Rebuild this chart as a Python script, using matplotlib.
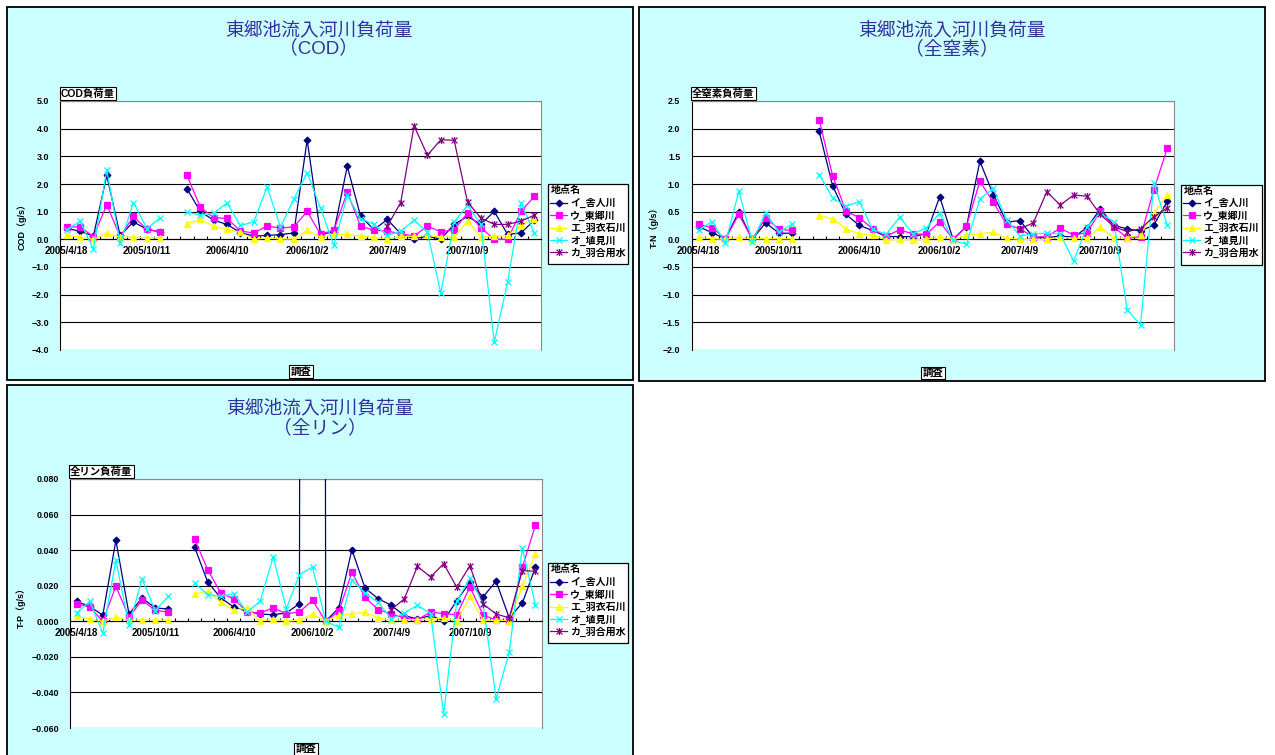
"""東郷池流入河川負荷量 - COD / 全窒素 / 全リン, three Excel-style monthly line charts."""
import numpy as np
import matplotlib

matplotlib.use("Agg")
import matplotlib.pyplot as plt
from matplotlib.patches import Rectangle
from matplotlib.lines import Line2D
from matplotlib.path import Path
from matplotlib.ticker import FixedLocator, FuncFormatter

plt.rcParams["font.family"] = ["Liberation Sans", "Noto Sans CJK JP", "DejaVu Sans"]

W, H = 1275, 755
nan = np.nan

# --- data -------------------------------------------------------------------
# 36 monthly surveys (2005/4 - 2008/3); Excel shows a label on every 6th one
n_survey = 36
x_labels = ["2005/4/18", "2005/10/11", "2006/4/10", "2006/10/2", "2007/4/9", "2007/10/9"]
label_idx = [0, 6, 12, 18, 24, 30]

sites = ["イ_舎人川", "ウ_東郷川", "エ_羽衣石川", "オ_埴見川", "カ_羽合用水"]

# COD load (g/s)
cod_toneri = [0.40, 0.29, 0.12, 2.31, 0.14, 0.63, 0.36, 0.27, nan, 1.83, 1.01, 0.69,
              0.54, 0.24, 0.12, 0.14, 0.17, 0.23, 3.60, 0.18, 0.27, 2.64, 0.83, 0.35,
              0.72, 0.20, 0.02, 0.11, 0.01, 0.54, 0.83, 0.54, 1.01, 0.18, 0.23, 0.69]
cod_togo = [0.45, 0.45, 0.10, 1.25, 0.10, 0.83, 0.36, 0.27, nan, 2.31, 1.17, 0.78,
            0.76, 0.30, 0.23, 0.48, 0.41, 0.45, 1.01, 0.18, 0.33, 1.71, 0.47, 0.33,
            0.30, 0.20, 0.12, 0.48, 0.27, 0.35, 0.95, 0.42, 0.00, 0.00, 1.01, 1.55]
cod_ueshi = [0.15, 0.08, 0.00, 0.22, 0.08, 0.08, 0.06, 0.06, nan, 0.57, 0.72, 0.47,
             0.36, 0.25, 0.00, 0.06, 0.01, 0.01, 0.33, 0.08, 0.18, 0.18, 0.11, 0.08,
             0.02, 0.11, 0.11, 0.14, 0.08, 0.08, 0.66, 0.08, 0.11, 0.14, 0.51, 0.75]
cod_hanami = [0.35, 0.65, -0.35, 2.50, -0.15, 1.33, 0.39, 0.78, nan, 0.99, 0.87, 0.95,
              1.31, 0.50, 0.63, 1.89, 0.45, 1.45, 2.41, 1.13, -0.22, 1.59, 0.75, 0.54,
              0.14, 0.30, 0.69, 0.27, -1.95, 0.63, 1.23, 0.54, -3.72, -1.55, 1.31, 0.23]
cod_hawai = [nan] * 24 + [0.48, 1.33, 4.10, 3.04, 3.60, 3.58, 1.35, 0.77, 0.54, 0.54, 0.66, 0.87]

# T-N load (g/s)
tn_toneri = [0.23, 0.12, 0.01, 0.50, 0.00, 0.30, 0.11, 0.11, nan, 1.95, 0.97, 0.45,
             0.25, 0.16, 0.05, 0.05, 0.05, 0.10, 0.77, 0.00, 0.23, 1.41, 0.81, 0.31,
             0.34, 0.03, 0.03, 0.06, 0.04, 0.21, 0.55, 0.25, 0.19, 0.15, 0.26, 0.69]
tn_togo = [0.27, 0.21, 0.01, 0.45, 0.00, 0.39, 0.18, 0.16, nan, 2.16, 1.15, 0.51,
           0.39, 0.19, 0.06, 0.17, 0.10, 0.09, 0.32, 0.00, 0.24, 1.05, 0.67, 0.27,
           0.19, 0.04, 0.05, 0.20, 0.08, 0.12, 0.51, 0.23, 0.02, 0.05, 0.90, 1.65]
tn_ueshi = [0.04, 0.01, 0.00, 0.04, 0.01, 0.01, 0.01, 0.01, nan, 0.43, 0.37, 0.19,
            0.10, 0.08, -0.01, 0.00, -0.01, 0.00, 0.05, 0.00, 0.07, 0.10, 0.13, 0.02,
            0.00, 0.00, 0.00, 0.04, 0.02, 0.02, 0.23, 0.02, 0.03, 0.08, 0.47, 0.80]
tn_hanami = [0.17, 0.32, -0.06, 0.87, -0.04, 0.48, 0.13, 0.28, nan, 1.17, 0.75, 0.60,
             0.68, 0.18, 0.09, 0.40, 0.10, 0.21, 0.47, -0.02, -0.09, 0.73, 0.92, 0.35,
             0.06, 0.10, 0.11, 0.10, -0.39, 0.23, 0.47, 0.32, -1.27, -1.55, 1.02, 0.25]
tn_hawai = [nan] * 24 + [0.19, 0.30, 0.86, 0.62, 0.80, 0.78, 0.45, 0.23, 0.14, 0.19, 0.41, 0.57]

# T-P load (g/s); 舎人川 2006/10 is far above the axis (drawn as near-vertical spikes)
tp_toneri = [0.0112, 0.0084, 0.0034, 0.0455, 0.0041, 0.0131, 0.0075, 0.0069, nan, 0.0418, 0.0221, 0.0131,
             0.0080, 0.0056, 0.0041, 0.0037, 0.0047, 0.0099, 5.0, 0.0000, 0.0075, 0.0403, 0.0187, 0.0127,
             0.0090, 0.0032, 0.0013, 0.0032, 0.0004, 0.0116, 0.0219, 0.0137, 0.0225, 0.0019, 0.0103, 0.0303]
tp_togo = [0.0099, 0.0080, 0.0000, 0.0197, 0.0024, 0.0118, 0.0062, 0.0051, nan, 0.0463, 0.0290, 0.0159,
           0.0126, 0.0052, 0.0047, 0.0075, 0.0043, 0.0052, 0.0118, 0.0000, 0.0056, 0.0275, 0.0135, 0.0066,
           0.0041, 0.0019, 0.0009, 0.0052, 0.0043, 0.0037, 0.0193, 0.0037, 0.0006, 0.0004, 0.0303, 0.0540]
tp_ueshi = [0.0028, 0.0013, 0.0000, 0.0022, 0.0006, 0.0009, 0.0009, 0.0006, nan, 0.0154, 0.0169, 0.0107,
            0.0062, 0.0075, 0.0000, 0.0013, 0.0000, 0.0006, 0.0041, 0.0000, 0.0034, 0.0041, 0.0051, 0.0019,
            0.0006, 0.0009, 0.0009, 0.0013, 0.0019, 0.0004, 0.0140, 0.0006, 0.0006, 0.0004, 0.0197, 0.0380]
tp_hanami = [0.0047, 0.0112, -0.0066, 0.0343, -0.0022, 0.0238, 0.0060, 0.0140, nan, 0.0215, 0.0150, 0.0140,
             0.0155, 0.0052, 0.0112, 0.0362, 0.0071, 0.0262, 0.0305, 0.0000, -0.0034, 0.0230, 0.0159, 0.0107,
             0.0013, 0.0047, 0.0090, 0.0043, -0.0523, 0.0112, 0.0243, 0.0099, -0.0436, -0.0174, 0.0412, 0.0090]
tp_hawai = [nan] * 24 + [0.0066, 0.0126, 0.0309, 0.0249, 0.0324, 0.0191, 0.0313, 0.0097, 0.0041, 0.0019, 0.0285, 0.0281]

# --- style ------------------------------------------------------------------
BG = "#CCFFFF"
TITLE_C = "#333399"
COLORS = ["#000080", "#FF00FF", "#FFFF00", "#00FFFF", "#800080"]
# Excel "star" marker: an x with a vertical bar
STAR = Path([(-1, -1), (1, 1), (-1, 1), (1, -1), (0, -1.2), (0, 1.2)],
            [Path.MOVETO, Path.LINETO, Path.MOVETO, Path.LINETO, Path.MOVETO, Path.LINETO])
MARKERS = ["D", "s", "^", "x", STAR]
MSIZES = [3.4, 4.6, 4.8, 4.8, 5.0]
TXT = dict(fontweight="bold")


def fx(x):
    return x / W


def fy(y):
    return 1 - y / H


fig = plt.figure(figsize=(W / 100, H / 100), dpi=100)


def chart(frame, plot, series, ylim, ystep, fmt, ypad, titles, title_xy, ylabel, ylab_xy,
          box_text, box_xy, legend_px, xtitle_xy):
    # chart-area background
    x0, y0, x1, y1 = frame
    fig.patches.append(Rectangle((fx(x0), fy(y1)), (x1 - x0) / W, (y1 - y0) / H,
                                 transform=fig.transFigure, fc=BG, ec="black", lw=1.3, zorder=-2))
    px0, py0, px1, py1 = plot
    ax = fig.add_axes([fx(px0), fy(py1), (px1 - px0) / W, (py1 - py0) / H])
    ax.set_facecolor("white")

    x = np.arange(n_survey)
    for vals, c, m, ms in zip(series, COLORS, MARKERS, MSIZES):
        ax.plot(x, np.array(vals, dtype=float), color=c, lw=0.9, marker=m, ms=ms,
                mfc=c, mec=c, mew=0.9, zorder=3)

    ax.set_xlim(-0.5, n_survey - 0.5)
    ax.set_ylim(*ylim)
    ax.yaxis.set_major_locator(FixedLocator(np.arange(ylim[0], ylim[1] + ystep / 2, ystep)))
    ax.yaxis.set_major_formatter(FuncFormatter(lambda v, p: (fmt % v).replace("-", "\u2212")
                                               if abs(v) > 1e-9 else fmt % 0))
    ax.yaxis.grid(True, color="black", lw=0.8)
    ax.set_axisbelow(True)
    ax.tick_params(axis="y", length=0, pad=ypad, labelsize=6.4)

    # category axis crosses at zero
    ax.spines["bottom"].set_position(("data", 0))
    ax.spines["bottom"].set_color("black")
    ax.spines["bottom"].set_linewidth(0.8)
    ax.spines["left"].set_color("black")
    ax.spines["left"].set_linewidth(0.8)
    for s in ("top", "right"):
        ax.spines[s].set_color("#888888")
        ax.spines[s].set_linewidth(0.8)
    ax.set_xticks(label_idx)
    ax.set_xticklabels(x_labels)
    ax.set_xticks(np.arange(-0.5, n_survey), minor=True)
    ax.tick_params(axis="x", which="major", length=0, pad=4.5, labelsize=7.0)
    ax.tick_params(axis="x", which="minor", direction="in", length=2.5, width=0.8)
    for lab in ax.get_xticklabels() + ax.get_yticklabels():
        lab.set_fontweight("bold")

    # titles and little Excel text boxes
    tx, ty1, ty2 = title_xy
    fig.text(fx(tx), fy(ty1), titles[0], ha="center", va="center", fontsize=13.5, color=TITLE_C)
    fig.text(fx(tx), fy(ty2), titles[1], ha="center", va="center", fontsize=13.5, color=TITLE_C)
    fig.text(fx(ylab_xy[0]), fy(ylab_xy[1]), ylabel, rotation=90, ha="center", va="center",
             fontsize=6.5, **TXT)
    box = dict(boxstyle="square,pad=0.12", fc="white", ec="black", lw=0.8)
    fig.text(fx(box_xy[0]), fy(box_xy[1]), box_text, ha="left", va="center", fontsize=7.5,
             bbox=box, **TXT)
    fig.text(fx(xtitle_xy[0]), fy(xtitle_xy[1]), "調査", ha="center", va="center", fontsize=7.5,
             bbox=box, **TXT)

    # legend: framed box with a title row
    lx0, ly0, lsep, lx1, ly1 = legend_px
    fig.patches.append(Rectangle((fx(lx0), fy(ly1)), (lx1 - lx0) / W, (ly1 - ly0) / H,
                                 transform=fig.transFigure, fc="white", ec="black", lw=0.9, zorder=1))
    fig.add_artist(Line2D([fx(lx0), fx(lx1)], [fy(lsep), fy(lsep)], transform=fig.transFigure,
                          color="black", lw=0.8, zorder=1))
    fig.text(fx(lx0 + 3), fy((ly0 + lsep) / 2), "地点名", ha="left", va="center", fontsize=7.2, **TXT)
    fig.legend(ax.get_lines(), sites, loc="upper left", bbox_to_anchor=(fx(lx0 + 1), fy(lsep + 1)),
               borderaxespad=0, borderpad=0.1, handlelength=1.7, handletextpad=0.3,
               labelspacing=0.22, frameon=False, prop=dict(size=7.2, weight="bold"))
    return ax


# --- (1) COD ----------------------------------------------------------------
chart(frame=(7, 7, 633, 380), plot=(60, 101, 541, 350),
      series=[cod_toneri, cod_togo, cod_ueshi, cod_hanami, cod_hawai],
      ylim=(-4.0, 5.0), ystep=1.0, fmt="%.1f", ypad=7.7,
      titles=("東郷池流入河川負荷量", "（COD）"), title_xy=(319, 30, 48),
      ylabel="COD（g/s）", ylab_xy=(22, 225),
      box_text="COD負荷量", box_xy=(61, 93.5),
      legend_px=(548, 184, 196, 628, 264), xtitle_xy=(301, 371.5))

# --- (2) T-N ----------------------------------------------------------------
chart(frame=(639, 7, 1265, 381), plot=(692, 101, 1174, 350),
      series=[tn_toneri, tn_togo, tn_ueshi, tn_hanami, tn_hawai],
      ylim=(-2.0, 2.5), ystep=0.5, fmt="%.1f", ypad=8.4,
      titles=("東郷池流入河川負荷量", "（全窒素）"), title_xy=(952, 30, 49),
      ylabel="T-N（g/s）", ylab_xy=(654, 225),
      box_text="全窒素負荷量", box_xy=(692, 93.5),
      legend_px=(1181, 185, 196, 1262, 265), xtitle_xy=(933, 373))

# --- (3) T-P ----------------------------------------------------------------
chart(frame=(7, 385, 633, 775), plot=(70, 479, 542, 728),
      series=[tp_toneri, tp_togo, tp_ueshi, tp_hanami, tp_hawai],
      ylim=(-0.060, 0.080), ystep=0.020, fmt="%.3f", ypad=7.7,
      titles=("東郷池流入河川負荷量", "（全リン）"), title_xy=(320, 408, 428),
      ylabel="T-P（g/s）", ylab_xy=(21, 605),
      box_text="全リン負荷量", box_xy=(70, 471.5),
      legend_px=(548, 563, 575, 628, 643), xtitle_xy=(306, 749))

fig.savefig("out.png", dpi=100)
